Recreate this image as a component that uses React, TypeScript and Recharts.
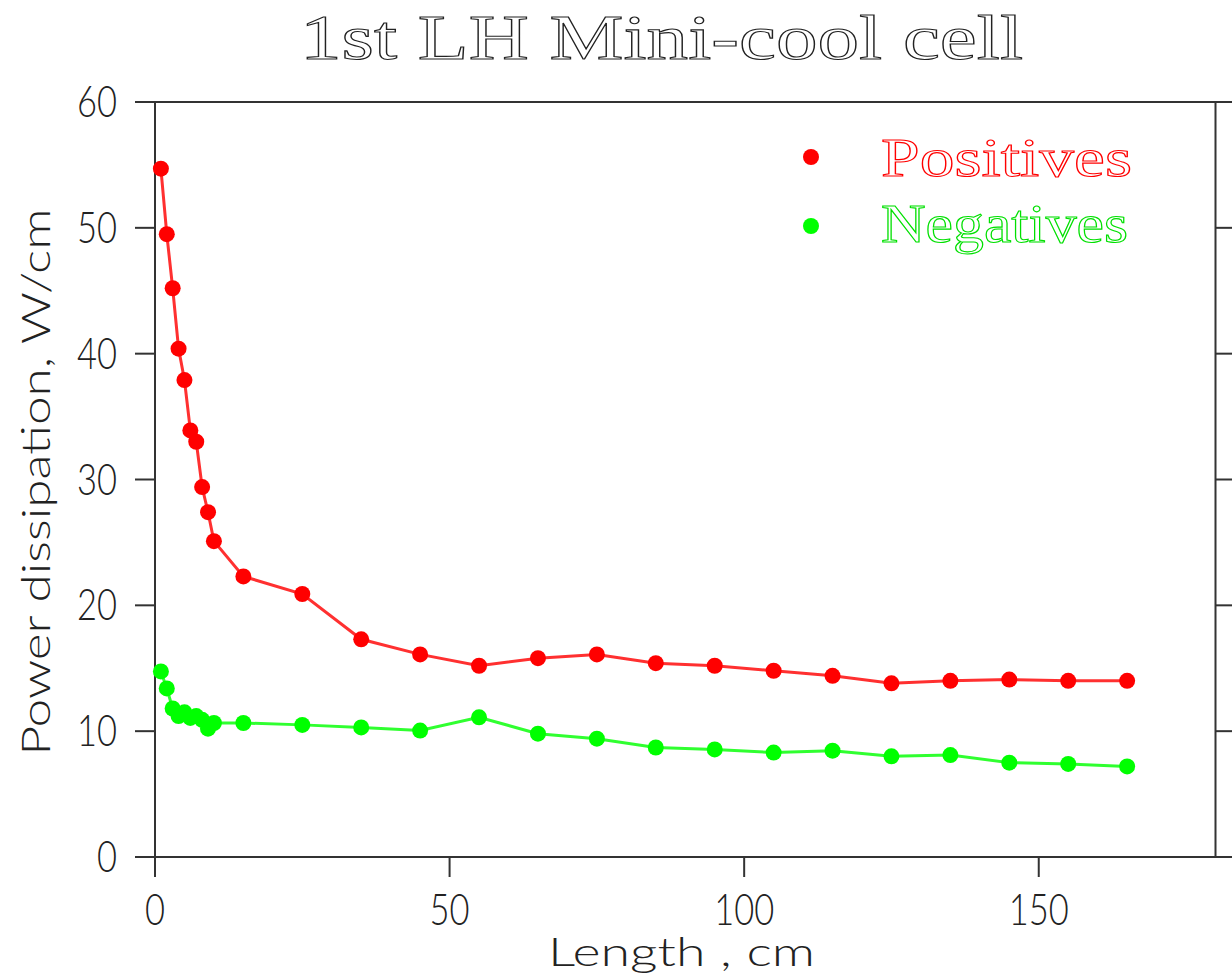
import { Legend, Line, LineChart, ReferenceLine, XAxis, YAxis } from 'recharts';

const lengths = [1, 2, 3, 4, 5, 6, 7, 8, 9, 10, 15, 25, 35, 45, 55, 65, 75, 85, 95, 105, 115, 125, 135, 145, 155, 165];
const positives = [54.7, 49.5, 45.2, 40.4, 37.9, 33.9, 33.0, 29.4, 27.4, 25.1, 22.3, 20.9, 17.3, 16.1, 15.2, 15.8, 16.1, 15.4, 15.2, 14.8, 14.4, 13.8, 14.0, 14.1, 14.0, 14.0];
const negatives = [14.75, 13.4, 11.8, 11.2, 11.5, 11.05, 11.2, 10.9, 10.2, 10.65, 10.65, 10.5, 10.3, 10.05, 11.1, 9.8, 9.4, 8.7, 8.55, 8.3, 8.45, 8.0, 8.1, 7.5, 7.4, 7.2];

const xTicks = [0, 50, 100, 150];
const yTicks = [0, 10, 20, 30, 40, 50, 60];

const data = lengths.map((length, i) => ({
    length,
    positives: positives[i],
    negatives: negatives[i],
}));

const axisColor = '#333';
const plainFont = "Lato, 'Liberation Sans', sans-serif";
const serifFont = "'Liberation Serif', 'DejaVu Serif', serif";

function BottomTick(props: any) {
    const { x, y, payload } = props;
    const s = String(payload.value);
    return (
        <text x={x} y={y + 48} textAnchor="middle" fontSize={44} fontWeight={300}
            fontFamily={plainFont} fill="#222" textLength={s.length * 20} lengthAdjust="spacingAndGlyphs">
            {s}
        </text>
    );
}

function LeftTick(props: any) {
    const { x, y, payload } = props;
    const s = String(payload.value);
    return (
        <text x={x - 18} y={y + 15} textAnchor="end" fontSize={44} fontWeight={300}
            fontFamily={plainFont} fill="#222" textLength={s.length * 20} lengthAdjust="spacingAndGlyphs">
            {s}
        </text>
    );
}

const Title = () => (
    <text x={300} y={59} fontSize={63} fontFamily={serifFont} fill="#fff" stroke="#222"
        strokeWidth={1.1} textLength={723} lengthAdjust="spacingAndGlyphs">
        1st LH Mini-cool cell
    </text>
);

const XTitle = () => (
    <text x={548} y={966} fontSize={40} fontWeight={300} fontFamily={plainFont} fill="#222"
        textLength={267} lengthAdjust="spacingAndGlyphs">
        Length , cm
    </text>
);

const YTitle = () => (
    <text x={0} y={0} transform="translate(50, 482) rotate(-90)" textAnchor="middle" fontSize={40}
        fontWeight={300} fontFamily={plainFont} fill="#222" textLength={547} lengthAdjust="spacingAndGlyphs">
        Power dissipation, W/cm
    </text>
);

const LegendBox = () => (
    <svg width={400} height={170} style={{ overflow: 'visible' }}>
        <circle cx={31} cy={47} r={8} fill="#ff0000" />
        <text x={101} y={66} fontSize={54} fontFamily={serifFont} fill="#fff" stroke="#ff0000"
            strokeWidth={1.1} textLength={251} lengthAdjust="spacingAndGlyphs">Positives</text>
        <circle cx={31} cy={116} r={8} fill="#00ff00" />
        <text x={101} y={132} fontSize={54} fontFamily={serifFont} fill="#fff" stroke="#00e000"
            strokeWidth={1.1} textLength={247} lengthAdjust="spacingAndGlyphs">Negatives</text>
    </svg>
);

export default function App() {
    return (
        <div style={{ position: 'absolute', left: 0, top: 0, width: 1232, height: 978, background: '#fff' }}>
            <LineChart width={1232} height={978} data={data} margin={{ top: 0, right: 0, bottom: 0, left: 0 }}>
                <XAxis
                    dataKey="length"
                    type="number"
                    domain={[0, 182.8]}
                    ticks={xTicks}
                    height={121}
                    tickSize={20}
                    tickMargin={0}
                    tick={<BottomTick />}
                    axisLine={{ stroke: axisColor, strokeWidth: 2 }}
                    tickLine={{ stroke: axisColor, strokeWidth: 2 }}
                    label={<XTitle />}
                />
                <XAxis
                    xAxisId="top"
                    orientation="top"
                    dataKey="length"
                    type="number"
                    domain={[0, 182.8]}
                    ticks={xTicks}
                    height={102}
                    tickSize={20}
                    tick={false}
                    axisLine={{ stroke: axisColor, strokeWidth: 2 }}
                    tickLine={{ stroke: axisColor, strokeWidth: 2 }}
                    label={<Title />}
                />
                <YAxis
                    type="number"
                    domain={[0, 60]}
                    ticks={yTicks}
                    width={155}
                    tickSize={20}
                    tickMargin={0}
                    tick={<LeftTick />}
                    axisLine={{ stroke: axisColor, strokeWidth: 2 }}
                    tickLine={{ stroke: axisColor, strokeWidth: 2 }}
                    label={<YTitle />}
                />
                <ReferenceLine x={180} stroke={axisColor} strokeWidth={2} />
                {yTicks.map((t) => (
                    <ReferenceLine key={t} segment={[{ x: 180, y: t }, { x: 182.8, y: t }]}
                        stroke={axisColor} strokeWidth={2} />
                ))}
                <Legend
                    layout="horizontal"
                    verticalAlign="middle"
                    align="center"
                    wrapperStyle={{ left: 780, top: 110, width: 400, height: 170 }}
                    content={() => <LegendBox />}
                />
                <Line dataKey="positives" stroke="#ff3030" strokeWidth={3}
                    dot={{ r: 8, fill: '#ff0000', stroke: 'none' }} activeDot={false} isAnimationActive={false} />
                <Line dataKey="negatives" stroke="#30ff30" strokeWidth={3}
                    dot={{ r: 8, fill: '#00ff00', stroke: 'none' }} activeDot={false} isAnimationActive={false} />
            </LineChart>
        </div>
    );
}
